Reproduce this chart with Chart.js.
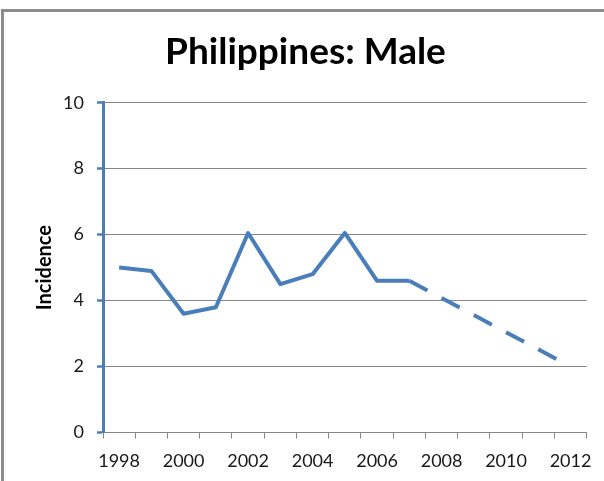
<!DOCTYPE html>
<html>
<head>
<meta charset="utf-8">
<script src="https://cdn.jsdelivr.net/npm/chart.js@4"></script>
<style>
  html, body { margin: 0; padding: 0; background: #fff; overflow: hidden; }
  #frame { position: absolute; left: 1px; top: 9px; width: 700px; height: 600px;
           border-left: 3px solid #8c8c8c; border-top: 3px solid #8c8c8c; }
  #chart { position: absolute; left: 0; top: 0; }
</style>
</head>
<body>
<div id="frame"></div>
<canvas id="chart" width="604" height="481"></canvas>
<script>
// chart data
const years = ['1998','1999','2000','2001','2002','2003','2004','2005','2006','2007','2008','2009','2010','2011','2012'];
const observed = [5.0, 4.9, 3.6, 3.8, 6.05, 4.5, 4.8, 6.05, 4.6, 4.6, null, null, null, null, null];
const projected = [null, null, null, null, null, null, null, null, null, 4.6, null, null, null, null, 2.0];
const yTicks = [0, 2, 4, 6, 8, 10];

const blue = '#4a7ebb';
const grey = '#868686';
const font = 'Lato, "Open Sans", sans-serif';

new Chart(document.getElementById('chart'), {
  type: 'line',
  data: {
    labels: years,
    datasets: [
      { data: observed, borderColor: blue, borderWidth: 4, pointRadius: 0,
        tension: 0, borderJoinStyle: 'round', fill: false },
      { data: projected, borderColor: blue, borderWidth: 4, pointRadius: 0,
        tension: 0, spanGaps: true, borderDash: [20.5, 16], borderCapStyle: 'butt', fill: false }
    ]
  },
  options: {
    responsive: false,
    animation: false,
    events: [],
    // left padding shifts the title centre to where it sits in the reference
    layout: { padding: { left: 24, right: 17, top: 0, bottom: 0 } },
    plugins: {
      legend: { display: false },
      tooltip: { enabled: false },
      title: {
        display: true,
        text: 'Philippines: Male',
        color: '#000',
        font: { family: font, size: 37, weight: 'bold', lineHeight: 1.2 },
        padding: { top: 29.8, bottom: 28.5 }
      }
    },
    scales: {
      x: {
        type: 'category',
        offset: true,
        grid: { offset: true, drawOnChartArea: false, drawTicks: true, tickLength: 6, color: grey },
        border: { color: grey, width: 1 },
        ticks: {
          autoSkip: false, maxRotation: 0, padding: 12, color: '#1a1a1a',
          font: { family: font, size: 18 },
          callback: (v, i) => (i % 2 === 0 ? years[i] : '')
        },
        afterFit: s => { s.height = 48.5; }
      },
      y: {
        min: 0, max: 10,
        afterBuildTicks: s => { s.ticks = yTicks.map(v => ({ value: v })); },
        grid: { color: grey, lineWidth: 1, tickColor: blue, tickWidth: 2.5, tickLength: 6 },
        border: { color: blue, width: 3 },
        ticks: { padding: 13, color: '#1a1a1a', font: { family: font, size: 18 } },
        title: {
          display: true, text: 'Incidence', color: '#000',
          font: { family: font, size: 20, weight: 'bold', lineHeight: 1.2 },
          padding: { top: 9, bottom: 0 }
        },
        afterFit: s => { s.width = 79; }
      }
    }
  }
});
</script>
</body>
</html>
